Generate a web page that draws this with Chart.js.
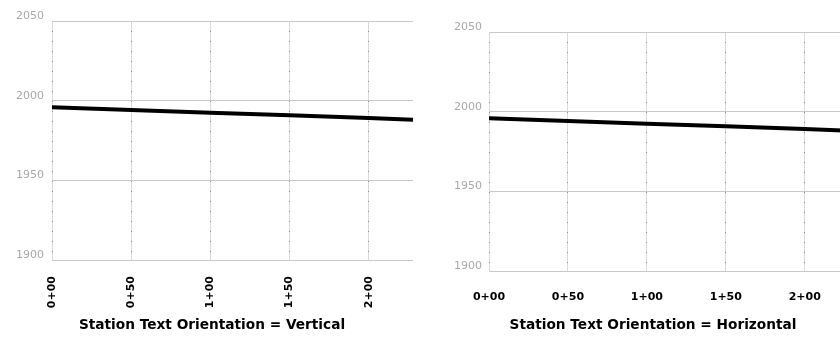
<!DOCTYPE html>
<html>
<head>
<meta charset="utf-8">
<script src="https://cdn.jsdelivr.net/npm/chart.js@4/dist/chart.umd.min.js"></script>
<style>
  html, body { margin: 0; padding: 0; background: #fff; width: 840px; height: 337px; overflow: hidden; }
  #wrap { position: relative; width: 840px; height: 337px; overflow: hidden; }
  .panel { position: absolute; top: 0; }
</style>
</head>
<body>
<div id="wrap">
  <div class="panel" style="left:0"><canvas id="vert" width="420" height="337"></canvas></div>
  <div class="panel" style="left:420px"><canvas id="horiz" width="440" height="337"></canvas></div>
</div>
<script>
// Profile: station (ft) and finished-grade elevation
const stations = [0, 50, 100, 150, 200, 228];
const elevations = [1995.9, 1994.2, 1992.4, 1990.8, 1989.1, 1988.0];

// Axis ticks
const stationTicks = [0, 50, 100, 150, 200];
const stationLabels = ['0+00', '0+50', '1+00', '1+50', '2+00'];
const elevationTicks = [1900, 1950, 2000, 2050];

const captions = ['Station Text Orientation = Vertical', 'Station Text Orientation = Horizontal'];

// Draws the caption line under each profile
const captionPlugin = {
  id: 'caption',
  afterDraw(chart, args, opts) {
    const ctx = chart.ctx;
    ctx.save();
    ctx.font = 'bold 13.7px "DejaVu Sans"';
    ctx.fillStyle = '#000';
    ctx.textAlign = 'center';
    ctx.textBaseline = 'middle';
    ctx.fillText(opts.text, opts.x, opts.y);
    ctx.restore();
  }
};

function setStationTicks(scale) {
  scale.ticks = stationTicks.map(v => ({ value: v }));
}

function profileChart(id, cfg) {
  return new Chart(document.getElementById(id), {
    type: 'line',
    data: {
      datasets: [{
        data: stations.map((s, i) => ({ x: s, y: elevations[i] })),
        borderColor: '#000',
        borderWidth: 4,
        pointRadius: 0,
        tension: 0,
        fill: false
      }]
    },
    plugins: [captionPlugin],
    options: {
      responsive: false,
      animation: false,
      events: [],
      layout: { padding: cfg.padding },
      plugins: {
        legend: { display: false },
        tooltip: { enabled: false },
        caption: { text: cfg.caption, x: cfg.captionX, y: cfg.captionY }
      },
      scales: {
        x: {
          type: 'linear',
          min: 0,
          max: 228,
          afterBuildTicks: setStationTicks,
          afterFit: s => { s.height = cfg.xHeight; },
          grid: { color: '#d9d9d9', lineWidth: 1, drawTicks: false },
          border: { display: false },
          ticks: {
            autoSkip: false,
            minRotation: cfg.rotation,
            maxRotation: cfg.rotation,
            padding: cfg.xPad,
            color: '#000',
            font: { family: 'DejaVu Sans', size: 11, weight: 'bold' },
            callback: v => stationLabels[stationTicks.indexOf(v)]
          }
        },
        // dotted overlay on the station grid lines
        xd: {
          type: 'linear',
          position: 'bottom',
          min: 0,
          max: 228,
          afterBuildTicks: setStationTicks,
          afterFit: s => { s.height = 0; },
          grid: { color: '#8f8f8f', lineWidth: 1, drawTicks: false },
          border: { display: false, dash: [1, 9] },
          ticks: { display: false }
        },
        y: {
          min: 1900,
          max: 2050,
          afterBuildTicks: s => { s.ticks = elevationTicks.map(v => ({ value: v })); },
          afterFit: s => { s.width = cfg.yWidth; },
          grid: { color: '#c8c8c8', lineWidth: 1, drawTicks: false },
          border: { display: false },
          ticks: {
            padding: cfg.yPad,
            labelOffset: -5,
            color: '#a8a8a8',
            font: { family: 'DejaVu Sans', size: 11 },
            callback: v => String(v)
          }
        }
      }
    }
  });
}

profileChart('vert', {
  caption: captions[0], captionX: 212, captionY: 325,
  padding: { left: 0, top: 21, right: 7, bottom: 17 },
  yWidth: 52, yPad: 8,
  xHeight: 60, xPad: 16, rotation: 90
});

profileChart('horiz', {
  caption: captions[1], captionX: 233, captionY: 325,
  padding: { left: 0, top: 32, right: 11, bottom: 26 },
  yWidth: 69, yPad: 7,
  xHeight: 40, xPad: 20, rotation: 0
});
</script>
</body>
</html>
